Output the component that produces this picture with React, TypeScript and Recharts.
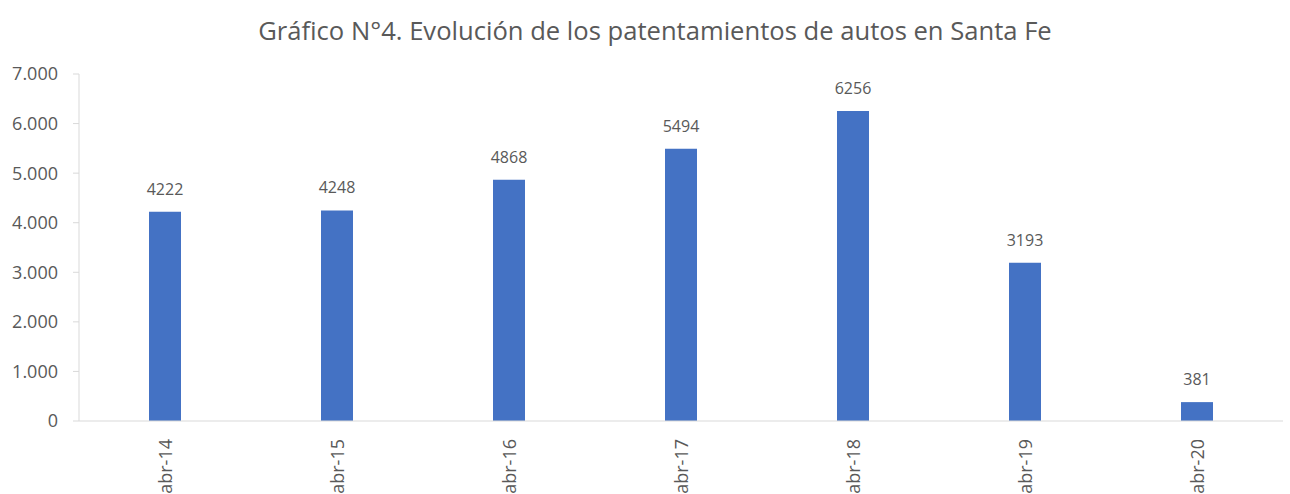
import React from "react";
import { Bar, BarChart, LabelList, XAxis, YAxis } from "recharts";

const periods = ["abr-14", "abr-15", "abr-16", "abr-17", "abr-18", "abr-19", "abr-20"];
const patentamientos = [4222, 4248, 4868, 5494, 6256, 3193, 381];
const yTicks = [0, 1000, 2000, 3000, 4000, 5000, 6000, 7000];

const data = periods.map((name, i) => ({ name, value: patentamientos[i] }));

const font = "'Open Sans', sans-serif";

function PeriodTick({ x, y, payload }: any) {
  return (
    <text
      x={x}
      y={y + 10}
      transform={`rotate(-90, ${x}, ${y + 10})`}
      textAnchor="end"
      dominantBaseline="central"
      fill="#595959"
      fontSize={18}
      fontFamily={font}
    >
      {payload.value}
    </text>
  );
}

export default function App() {
  return (
    <div style={{ position: "absolute", left: 0, top: 0, width: 1290, height: 494, background: "#fff" }}>
      <div
        style={{
          position: "absolute",
          top: 14,
          left: 0,
          width: 1310,
          textAlign: "center",
          fontFamily: font,
          fontSize: 25.6,
          lineHeight: "34px",
          color: "#595959",
        }}
      >
        Gráfico N°4. Evolución de los patentamientos de autos en Santa Fe
      </div>
      <BarChart width={1290} height={494} data={data} margin={{ top: 74, right: 7, bottom: 0, left: 0 }} barSize={32}>
        <XAxis
          dataKey="name"
          height={73}
          tickLine={false}
          axisLine={{ stroke: "#d9d9d9" }}
          tick={<PeriodTick />}
          interval={0}
        />
        <YAxis
          width={79}
          domain={[0, 7000]}
          ticks={yTicks}
          tickSize={6}
          tickMargin={15}
          tickLine={{ stroke: "#d9d9d9" }}
          axisLine={{ stroke: "#d9d9d9" }}
          tick={{ fill: "#595959", fontSize: 18, fontFamily: font }}
          tickFormatter={(v: number) => v.toLocaleString("de-DE")}
        />
        <Bar dataKey="value" fill="#4472C4" isAnimationActive={false}>
          <LabelList dataKey="value" position="top" offset={17} fill="#595959" fontSize={16} fontFamily={font} />
        </Bar>
      </BarChart>
    </div>
  );
}
